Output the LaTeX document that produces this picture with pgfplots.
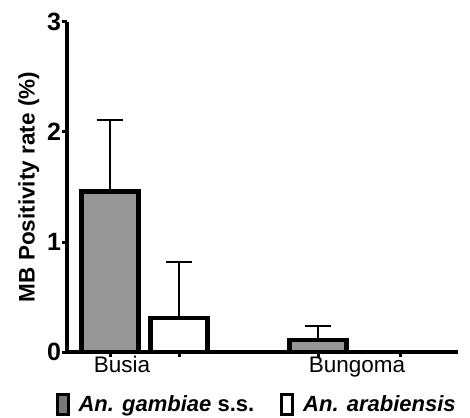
\documentclass[border=0pt]{standalone}
\usepackage{pgfplots}
\pgfplotsset{compat=1.18}
\usepackage{fontspec}
\setmainfont{Liberation Sans}
\definecolor{barfill}{RGB}{150,150,150}
\definecolor{legfill}{RGB}{120,120,120}
\newcommand{\tk}[1]{\fontsize{25}{27}\selectfont\bfseries #1}
\begin{document}
\begin{tikzpicture}[x=1pt,y=1pt]
\begin{axis}[
  at={(0,0)}, anchor=origin,
  scale only axis, width=391pt, height=330pt,
  xmin=67, xmax=458, ymin=0, ymax=3,
  axis lines=left, axis line style={line width=4pt, -},
  every tick/.style={line width=3pt, black},
  ytick={0,1,2,3},
  yticklabels={\tk{0},\tk{1},\tk{2},\tk{3}},
  y tick label style={xshift=2.5pt},
  tick align=outside, major tick length=5pt,
  xtick={110,179,318,400}, xticklabels={},
  extra x ticks={122,357}, extra x tick labels={Busia,Bungoma},
  extra x tick style={major tick length=0pt, tick label style={font=\fontsize{22.5}{24}\selectfont, yshift=-1pt}},
  ylabel={MB Positivity rate (\%)},
  ylabel style={font=\fontsize{22.5}{24}\selectfont\bfseries, yshift=1pt},
  ybar, bar width=57, bar shift=0pt,
  clip=false,
  legend columns=2,
  legend style={at={(0.485,-0.118)}, anchor=north, draw=none, fill=none,
    font=\fontsize{22}{24}\selectfont\bfseries,
    /tikz/every odd column/.append style={column sep=7pt},
    /tikz/every even column/.append style={column sep=24pt}},
  legend image code/.code={\draw[#1, line width=3pt] (-1pt,-10pt) rectangle (10pt,10pt);},
]
\addlegendimage{draw=black, fill=legfill}
\addlegendentry{\textit{An. gambiae} s.s.}
\addlegendimage{draw=black, fill=white}
\addlegendentry{\textit{An. arabiensis}}
\addplot[draw=black, line width=4.5pt, fill=barfill, forget plot,
  error bars/.cd, y dir=plus, y explicit,
  error bar style={line width=2.2pt},
  error mark options={rotate=90, mark size=13pt, line width=2.2pt}]
  coordinates {(110,1.46) +- (0,0.65) (318,0.11) +- (0,0.13)};
\addplot[draw=black, line width=4.5pt, fill=white, forget plot,
  error bars/.cd, y dir=plus, y explicit,
  error bar style={line width=2.2pt},
  error mark options={rotate=90, mark size=13pt, line width=2.2pt}]
  coordinates {(179,0.31) +- (0,0.51)};
\end{axis}
\pgfresetboundingbox
\path[use as bounding box] (-67,-65) rectangle (403,352);
\end{tikzpicture}
\end{document}
